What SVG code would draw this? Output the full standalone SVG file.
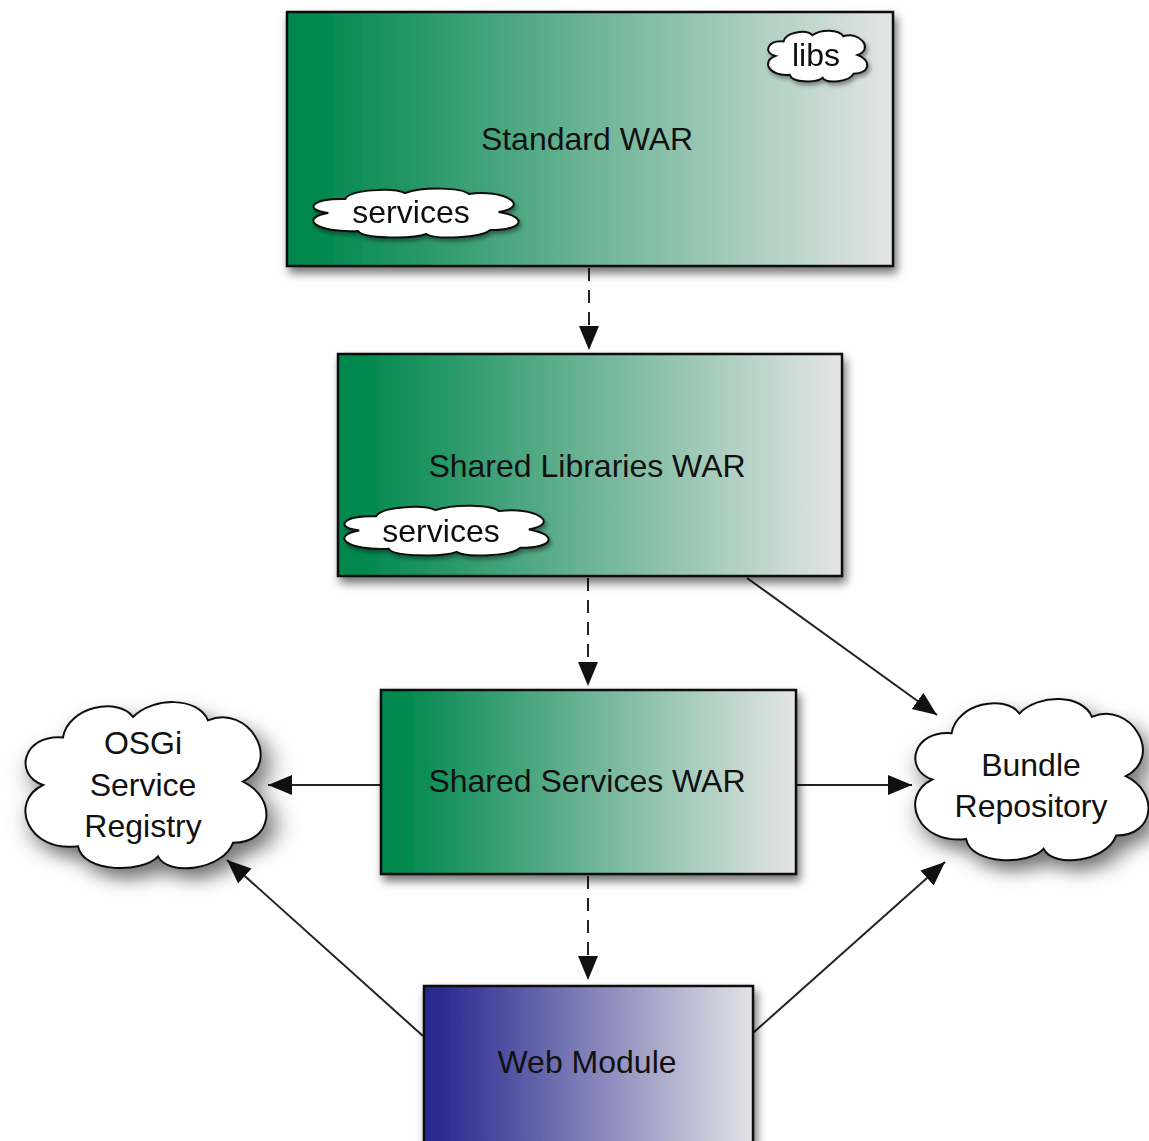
<svg xmlns="http://www.w3.org/2000/svg" xmlns:xlink="http://www.w3.org/1999/xlink" width="1149" height="1141" viewBox="0 0 1149 1141">
  <style>
    .box { stroke: #111; stroke-width: 2.5; }
    .green { fill: url(#gGreen); }
    .blue { fill: url(#gBlue); }
    .cloud { fill: #fff; stroke: #111; stroke-width: 2; }
    .lbl { font-family: "Liberation Sans", Arial, sans-serif; font-size: 32px; fill: #111; text-anchor: middle; }
    .conn { stroke: #222; stroke-width: 2; fill: none; }
    .dash { stroke-dasharray: 13 9; }
  </style>
  <defs>
    <linearGradient id="gGreen" x1="0" y1="0" x2="1" y2="0">
      <stop offset="0" stop-color="#00884e"/>
      <stop offset="0.05" stop-color="#00884e"/>
      <stop offset="1" stop-color="#e4e5e5"/>
    </linearGradient>
    <linearGradient id="gBlue" x1="0" y1="0" x2="1" y2="0">
      <stop offset="0" stop-color="#282890"/>
      <stop offset="0.05" stop-color="#2a2a90"/>
      <stop offset="1" stop-color="#e2e2e6"/>
    </linearGradient>
    <filter id="shadow" x="-20%" y="-20%" width="150%" height="150%">
      <feDropShadow dx="3" dy="6" stdDeviation="5" flood-color="#000" flood-opacity="0.55"/>
    </filter>
    <filter id="shadowS" x="-20%" y="-30%" width="150%" height="170%">
      <feDropShadow dx="2" dy="3" stdDeviation="2" flood-color="#000" flood-opacity="0.4"/>
    </filter>
    <path id="cloudShape" vector-effect="non-scaling-stroke" d="M10,50 C-2,44 2,20 18,22 C20,4 40,-2 46,10 C54,-2 72,-2 76,12 C92,2 106,36 90,48 C104,58 102,84 86,84 C82,100 60,104 56,92 C50,102 26,102 24,86 C4,90 -4,60 10,50 Z"/>
    <marker id="arrow" markerUnits="userSpaceOnUse" markerWidth="26" markerHeight="22" refX="24" refY="10" orient="auto">
      <path d="M0,0 L24,10 L0,20 Z" fill="#111"/>
    </marker>
  </defs>

  <g id="connectors">
    <line class="conn dash" x1="589" y1="268" x2="589" y2="350" marker-end="url(#arrow)"/>
    <line class="conn dash" x1="588" y1="578" x2="588" y2="686" marker-end="url(#arrow)"/>
    <line class="conn dash" x1="588" y1="876" x2="588" y2="980" marker-end="url(#arrow)"/>
    <line class="conn" x1="747" y1="578" x2="937" y2="715" marker-end="url(#arrow)"/>
    <line class="conn" x1="381" y1="785" x2="268" y2="785" marker-end="url(#arrow)"/>
    <line class="conn" x1="796" y1="785" x2="912" y2="785" marker-end="url(#arrow)"/>
    <line class="conn" x1="423" y1="1036" x2="227" y2="860" marker-end="url(#arrow)"/>
    <line class="conn" x1="753" y1="1033" x2="945" y2="862" marker-end="url(#arrow)"/>
  </g>

  <g id="standard-war">
    <rect class="box green" x="287" y="12" width="606" height="254" filter="url(#shadow)"/>
    <text class="lbl" x="587" y="150">Standard WAR</text>
    <g id="libs-cloud" filter="url(#shadowS)">
      <use xlink:href="#cloudShape" class="cloud" transform="translate(765,30) scale(1.03,0.52)"/>
      <text class="lbl" x="816" y="66">libs</text>
    </g>
    <g id="services-cloud-1" filter="url(#shadowS)">
      <use xlink:href="#cloudShape" class="cloud" transform="translate(307,188) scale(2.13,0.5)"/>
      <text class="lbl" x="411" y="223">services</text>
    </g>
  </g>

  <g id="shared-libraries-war">
    <rect class="box green" x="338" y="354" width="504" height="222" filter="url(#shadow)"/>
    <text class="lbl" x="587" y="477">Shared Libraries WAR</text>
    <g id="services-cloud-2" filter="url(#shadowS)">
      <use xlink:href="#cloudShape" class="cloud" transform="translate(338,505) scale(2.12,0.51)"/>
      <text class="lbl" x="441" y="542">services</text>
    </g>
  </g>

  <g id="shared-services-war">
    <rect class="box green" x="381" y="690" width="415" height="184" filter="url(#shadow)"/>
    <text class="lbl" x="587" y="792">Shared Services WAR</text>
  </g>

  <g id="web-module">
    <rect class="box blue" x="424" y="986" width="329" height="200" filter="url(#shadow)"/>
    <text class="lbl" x="587" y="1073">Web Module</text>
  </g>

  <g id="osgi-registry">
    <use xlink:href="#cloudShape" class="cloud" transform="translate(18,700) scale(2.5,1.7)" filter="url(#shadow)"/>
    <text class="lbl" x="143" y="754">OSGi</text>
    <text class="lbl" x="143" y="796">Service</text>
    <text class="lbl" x="143" y="837">Registry</text>
  </g>

  <g id="bundle-repository">
    <use xlink:href="#cloudShape" class="cloud" transform="translate(908,697) scale(2.42,1.65)" filter="url(#shadow)"/>
    <text class="lbl" x="1031" y="776">Bundle</text>
    <text class="lbl" x="1031" y="817">Repository</text>
  </g>
</svg>
